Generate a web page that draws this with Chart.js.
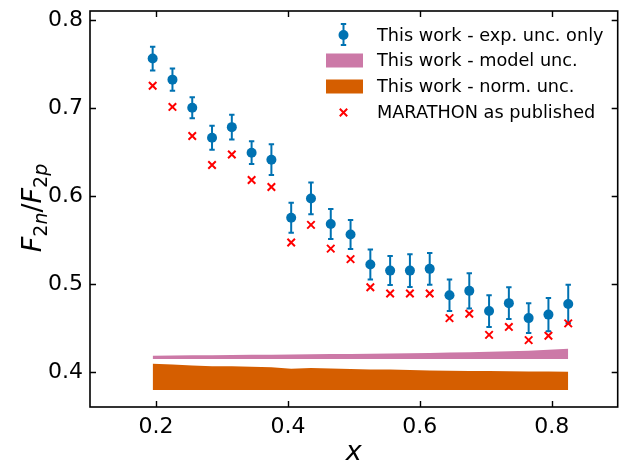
<!DOCTYPE html>
<html>
<head>
<meta charset="utf-8">
<script src="https://cdn.jsdelivr.net/npm/chart.js@4.4.1/dist/chart.umd.min.js"></script>
<style>
    html, body { margin: 0; padding: 0; background: #fff; }
    canvas { display: block; }
</style>
</head>
<body>
<canvas id="chart" width="625" height="461"></canvas>
<script>
// Bjorken x bins
const xBins = [0.195, 0.225, 0.255, 0.285, 0.315, 0.345, 0.375, 0.405, 0.435, 0.465, 0.495,
               0.525, 0.555, 0.585, 0.615, 0.645, 0.675, 0.705, 0.735, 0.765, 0.795, 0.825];

// F2n/F2p extracted in this work, with experimental uncertainty
const ratioThisWork = [0.756, 0.732, 0.700, 0.666, 0.678, 0.649, 0.641, 0.575, 0.597, 0.568, 0.556,
                       0.522, 0.515, 0.515, 0.517, 0.487, 0.492, 0.469, 0.478, 0.461, 0.465, 0.477];
const expUnc = [0.0135, 0.0127, 0.012, 0.0137, 0.014, 0.013, 0.0175, 0.017, 0.018, 0.017, 0.0165,
                0.017, 0.0165, 0.0186, 0.018, 0.018, 0.020, 0.018, 0.018, 0.017, 0.0188, 0.0218];

// MARATHON published ratio
const ratioMarathon = [0.725, 0.701, 0.668, 0.635, 0.647, 0.618, 0.610, 0.547, 0.567, 0.540, 0.528,
                       0.496, 0.489, 0.489, 0.489, 0.461, 0.466, 0.442, 0.451, 0.436, 0.441, 0.455];

// uncertainty bands, drawn as offset strips near the bottom
const modelBandLow = [0.4145, 0.4145, 0.4145, 0.4145, 0.4145, 0.4145, 0.4145, 0.4145, 0.4145, 0.4145, 0.4145,
                      0.4145, 0.4145, 0.4145, 0.4145, 0.4145, 0.4145, 0.4145, 0.4145, 0.4145, 0.4145, 0.4145];
const modelBandHigh = [0.4183, 0.4185, 0.4187, 0.4189, 0.4191, 0.4193, 0.4195, 0.4197, 0.4199, 0.4201, 0.4203,
                       0.4206, 0.4209, 0.4212, 0.4215, 0.4218, 0.4222, 0.4227, 0.4233, 0.4240, 0.4250, 0.4262];
const normBandLow = [0.3792, 0.3792, 0.3792, 0.3792, 0.3792, 0.3792, 0.3792, 0.3792, 0.3792, 0.3792, 0.3792,
                     0.3792, 0.3792, 0.3792, 0.3792, 0.3792, 0.3792, 0.3792, 0.3792, 0.3792, 0.3792, 0.3792];
const normBandHigh = [0.4091, 0.4083, 0.4072, 0.4063, 0.4062, 0.4058, 0.4052, 0.4034, 0.4042, 0.4038, 0.4032,
                      0.4027, 0.4025, 0.4020, 0.4016, 0.4012, 0.4010, 0.4008, 0.4005, 0.4003, 0.4002, 0.4001];

const xTicks = [0.2, 0.4, 0.6, 0.8];
const yTicks = [0.4, 0.5, 0.6, 0.7, 0.8];

const legendLabels = ["This work - exp. unc. only", "This work - model unc.",
                      "This work - norm. unc.", "MARATHON as published"];

const BLUE = "#0072B2";
const PINK = "#CC79A7";
const ORANGE = "#D55E00";
const RED = "#FF0000";
const FONT = "'DejaVu Sans', sans-serif";

const pts = ys => xBins.map((x, i) => ({ x: x, y: ys[i] }));

// error bars, frame, inward ticks, axis titles and legend
const decorations = {
    id: "decorations",
    beforeDatasetsDraw(chart) {
        const ctx = chart.ctx;
        const xs = chart.scales.x, ys = chart.scales.y;
        ctx.save();
        ctx.strokeStyle = BLUE;
        ctx.lineWidth = 2;
        xBins.forEach((x, i) => {
            const px = xs.getPixelForValue(x);
            const top = ys.getPixelForValue(ratioThisWork[i] + expUnc[i]);
            const bot = ys.getPixelForValue(ratioThisWork[i] - expUnc[i]);
            ctx.beginPath();
            ctx.moveTo(px, top); ctx.lineTo(px, bot);
            ctx.moveTo(px - 2.7, top); ctx.lineTo(px + 2.7, top);
            ctx.moveTo(px - 2.7, bot); ctx.lineTo(px + 2.7, bot);
            ctx.stroke();
        });
        ctx.restore();
    },
    afterDraw(chart) {
        const ctx = chart.ctx;
        const a = chart.chartArea;
        const xs = chart.scales.x, ys = chart.scales.y;
        ctx.save();

        // frame
        ctx.strokeStyle = "#000";
        ctx.lineWidth = 1.6;
        ctx.strokeRect(a.left, a.top, a.right - a.left, a.bottom - a.top);

        // inward ticks on all four sides
        const tl = 6;
        ctx.lineWidth = 1.4;
        ctx.beginPath();
        xTicks.forEach(v => {
            const p = Math.round(xs.getPixelForValue(v)) + 0.5;
            ctx.moveTo(p, a.bottom); ctx.lineTo(p, a.bottom - tl);
            ctx.moveTo(p, a.top); ctx.lineTo(p, a.top + tl);
        });
        yTicks.forEach(v => {
            const p = Math.round(ys.getPixelForValue(v)) + 0.5;
            ctx.moveTo(a.left, p); ctx.lineTo(a.left + tl, p);
            ctx.moveTo(a.right, p); ctx.lineTo(a.right - tl, p);
        });
        ctx.stroke();

        // x axis title
        ctx.fillStyle = "#000";
        ctx.textAlign = "center";
        ctx.textBaseline = "alphabetic";
        ctx.font = "italic 27px " + FONT;
        ctx.fillText("x", (a.left + a.right) / 2, 460);

        // y axis title F_{2n}/F_{2p}
        const runs = [
            { t: "F", it: true, sub: false },
            { t: "2", it: false, sub: true },
            { t: "n", it: true, sub: true },
            { t: "/", it: false, sub: false },
            { t: "F", it: true, sub: false },
            { t: "2", it: false, sub: true },
            { t: "p", it: true, sub: true }
        ];
        const big = 27, small = 19;
        const fontOf = r => (r.it ? "italic " : "") + (r.sub ? small : big) + "px " + FONT;
        let total = 0;
        runs.forEach(r => { ctx.font = fontOf(r); r.w = ctx.measureText(r.t).width; total += r.w; });
        ctx.translate(41, (a.top + a.bottom) / 2 - 1);
        ctx.rotate(-Math.PI / 2);
        ctx.textAlign = "left";
        let cx = -total / 2;
        runs.forEach(r => {
            ctx.font = fontOf(r);
            ctx.fillText(r.t, cx, r.sub ? 6 : 0);
            cx += r.w;
        });
        ctx.setTransform(1, 0, 0, 1, 0, 0);

        // legend
        const lx = 343.5, tx = 377;
        const rows = [35, 60.5, 86.5, 112.5];
        ctx.font = "17.7px " + FONT;
        ctx.textAlign = "left";
        ctx.textBaseline = "middle";
        ctx.fillStyle = "#000";
        legendLabels.forEach((label, i) => ctx.fillText(label, tx, rows[i] + 1));

        // errorbar marker
        ctx.strokeStyle = BLUE;
        ctx.lineWidth = 2;
        ctx.beginPath();
        ctx.moveTo(lx, rows[0] - 11); ctx.lineTo(lx, rows[0] + 10);
        ctx.moveTo(lx - 2.7, rows[0] - 11); ctx.lineTo(lx + 2.7, rows[0] - 11);
        ctx.moveTo(lx - 2.7, rows[0] + 10); ctx.lineTo(lx + 2.7, rows[0] + 10);
        ctx.stroke();
        ctx.fillStyle = BLUE;
        ctx.beginPath();
        ctx.arc(lx, rows[0], 5, 0, Math.PI * 2);
        ctx.fill();

        // band patches
        ctx.fillStyle = PINK;
        ctx.fillRect(326, rows[1] - 7, 37, 14);
        ctx.fillStyle = ORANGE;
        ctx.fillRect(326, rows[2] - 7, 37, 14);

        // cross marker
        ctx.strokeStyle = RED;
        ctx.lineWidth = 2;
        ctx.beginPath();
        ctx.moveTo(lx - 3.7, rows[3] - 3.7); ctx.lineTo(lx + 3.7, rows[3] + 3.7);
        ctx.moveTo(lx - 3.7, rows[3] + 3.7); ctx.lineTo(lx + 3.7, rows[3] - 3.7);
        ctx.stroke();

        ctx.restore();
    }
};

const bandSet = (ys, color, fill) => ({
    type: "line",
    data: pts(ys),
    borderWidth: 0,
    borderColor: color,
    backgroundColor: color,
    pointRadius: 0,
    tension: 0,
    fill: fill
});

new Chart(document.getElementById("chart").getContext("2d"), {
    type: "scatter",
    data: {
        datasets: [
            {
                label: legendLabels[0],
                data: pts(ratioThisWork),
                pointStyle: "circle",
                pointRadius: 5,
                pointBorderWidth: 0,
                backgroundColor: BLUE,
                borderColor: BLUE
            },
            {
                label: legendLabels[3],
                data: pts(ratioMarathon),
                pointStyle: "crossRot",
                pointRadius: 5.3,
                pointBorderWidth: 2,
                borderColor: RED,
                backgroundColor: RED
            },
            bandSet(modelBandLow, PINK, false),
            bandSet(modelBandHigh, PINK, "-1"),
            bandSet(normBandLow, ORANGE, false),
            bandSet(normBandHigh, ORANGE, "-1")
        ]
    },
    options: {
        responsive: false,
        animation: false,
        devicePixelRatio: 1,
        layout: { padding: { left: 0, right: 0, top: 11, bottom: 0 } },
        plugins: {
            legend: { display: false },
            tooltip: { enabled: false }
        },
        scales: {
            x: {
                type: "linear",
                min: 0.1,
                max: 0.9,
                afterBuildTicks: s => { s.ticks = xTicks.map(v => ({ value: v })); },
                afterFit: s => { s.height = 54; s.paddingLeft = 0; s.paddingRight = 0; },
                grid: { display: false, drawTicks: false },
                border: { display: false },
                ticks: {
                    color: "#000",
                    padding: 7,
                    maxRotation: 0,
                    font: { family: FONT, size: 22 },
                    callback: v => v.toFixed(1)
                }
            },
            y: {
                type: "linear",
                min: 0.36,
                max: 0.81,
                afterBuildTicks: s => { s.ticks = yTicks.map(v => ({ value: v })); },
                afterFit: s => { s.width = 90; s.paddingTop = 0; s.paddingBottom = 0; },
                grid: { display: false, drawTicks: false },
                border: { display: false },
                ticks: {
                    color: "#000",
                    padding: 7,
                    font: { family: FONT, size: 22 },
                    callback: v => v.toFixed(1)
                }
            }
        }
    },
    plugins: [decorations]
});
</script>
</body>
</html>
